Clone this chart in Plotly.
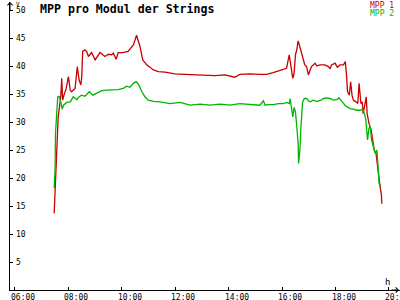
import plotly.graph_objects as go

# ---- data ----
mpp1_time = ["07:28","07:30","07:32","07:35","07:37","07:40","07:43","07:45","07:47","07:50",
             "07:55","08:00","08:04","08:07","08:15","08:20","08:24","08:28","08:30","08:32",
             "08:37","08:41","08:45","08:52","09:00","09:11","09:22","09:30","09:37","09:41",
             "09:47","09:52","10:02","10:14","10:26","10:33","10:41","10:47","10:56","11:11",
             "11:22","11:37","11:59","12:22","12:44","13:07","13:29","13:52","14:14","14:25",
             "14:48","15:10","15:25","15:40","15:55","16:03","16:10","16:16","16:19","16:24",
             "16:27","16:30","16:33","16:36","16:40","16:44","16:48","16:51","16:55","16:59",
             "17:03","17:06","17:14","17:18","17:25","17:36","17:44","17:48","17:51","17:59",
             "18:04","18:10","18:18","18:22","18:25","18:27","18:31","18:34","18:37","18:40",
             "18:46","18:50","18:53","18:57","19:00","19:02","19:07","19:09","19:11","19:15",
             "19:20","19:24","19:27","19:31","19:35","19:38","19:40","19:43","19:44"]
mpp1_value = [13.7,17.9,23.2,28.6,30.9,32.7,34.8,37.8,33.9,34.8,
              36.0,38.1,35.7,35.4,36.0,39.9,37.5,36.6,38.1,42.6,
              42.9,42.6,41.7,42.4,41.1,42.4,41.7,42.1,42.0,42.3,
              41.2,42.4,42.4,42.6,43.75,45.5,43.4,41.1,40.2,39.3,
              39.0,38.9,38.6,38.5,38.4,38.4,38.3,38.4,38.0,38.5,
              38.6,38.5,38.5,38.8,39.2,39.4,39.6,42.0,40.5,37.8,
              38.7,42.0,42.9,44.5,43.4,42.3,41.1,40.2,39.9,38.4,
              39.3,39.9,40.5,40.0,40.2,40.2,39.9,39.5,40.2,40.5,
              39.8,40.2,40.2,40.8,38.1,35.4,34.8,37.2,34.8,33.9,
              33.6,33.3,36.9,33.3,33.6,31.5,33.6,34.5,31.5,29.8,
              28.6,26.2,25.0,24.4,21.4,19.6,18.5,17.0,15.4]

mpp2_time = ["07:28","07:30","07:31","07:34","07:36","07:39","07:43","07:46","07:49","07:56",
             "08:04","08:11","08:19","08:24","08:30","08:37","08:47","08:55","09:04","09:15",
             "09:26","09:41","09:52","10:03","10:11","10:18","10:26","10:32","10:37","10:45",
             "10:52","10:59","11:11","11:26","11:48","12:11","12:33","12:56","13:18","13:41",
             "14:03","14:25","14:48","15:10","15:18","15:22","15:29","15:40","15:52","16:03",
             "16:10","16:16","16:18","16:20","16:22","16:24","16:27","16:30","16:33","16:36",
             "16:37","16:40","16:42","16:44","16:46","16:50","16:55","16:59","17:03","17:10",
             "17:18","17:25","17:33","17:40","17:48","17:55","18:03","18:08","18:14","18:22",
             "18:26","18:33","18:40","18:48","18:55","19:01","19:05","19:08","19:10","19:12",
             "19:15","19:18","19:21","19:25","19:29","19:33","19:35","19:38","19:42"]
mpp2_value = [18.2,21.4,28.0,32.7,34.5,34.6,33.6,32.3,33.0,33.5,
              33.6,34.5,34.0,34.5,34.8,34.6,35.4,34.8,35.2,35.6,
              35.7,35.7,35.8,36.0,36.4,36.2,36.9,37.2,36.8,35.4,
              34.5,33.9,33.7,33.6,33.3,33.5,33.0,33.2,33.0,33.2,
              33.0,33.3,33.2,33.0,33.8,33.0,33.1,33.1,33.3,33.3,
              33.5,33.3,34.2,33.3,32.1,30.9,32.6,31.8,29.2,26.2,
              22.6,25.0,28.6,31.5,33.6,34.2,34.2,33.8,33.6,33.9,
              33.7,33.8,34.2,34.3,34.2,33.9,34.0,34.3,33.6,32.9,
              32.7,32.4,32.3,32.1,32.1,32.3,31.5,30.4,28.6,26.8,
              28.9,29.2,26.8,25.3,24.4,25.0,21.4,19.0,18.5]

x_tick_hours = [6, 8, 10, 12, 14, 16, 18, 20]
x_tick_labels = ["06:00", "08:00", "10:00", "12:00", "14:00", "16:00", "18:00", "20:00"]
y_tick_values = [5, 10, 15, 20, 25, 30, 35, 40, 45, 50]

title_text = "MPP pro Modul der Strings"
series_names = ["MPP 1", "MPP 2"]
series_colors = ["#c80000", "#00b400"]


def to_hours(t):
    h, m = t.split(":")
    return int(h) + int(m) / 60.0


x_range = [5.813, 20.414]
y_range = [0, 51.43]
mono = "DejaVu Sans Mono"
tick_font = dict(family=mono, size=8, color="black")

fig = go.Figure()
fig.add_trace(go.Scatter(x=[to_hours(t) for t in mpp1_time], y=mpp1_value, mode="lines",
                         line=dict(color=series_colors[0], width=1.3), name=series_names[0]))
fig.add_trace(go.Scatter(x=[to_hours(t) for t in mpp2_time], y=mpp2_value, mode="lines",
                         line=dict(color=series_colors[1], width=1.3), name=series_names[1]))

axis_common = dict(showgrid=False, zeroline=False, automargin=False, showticklabels=False,
                   tickcolor="black", tickwidth=1, ticklen=3)
fig.update_layout(
    template="none",
    width=400, height=300,
    margin=dict(l=10, r=0, t=2, b=10, pad=0),
    paper_bgcolor="white", plot_bgcolor="white",
    showlegend=False,
    xaxis=dict(range=x_range, showline=True, linecolor="black", linewidth=1,
               ticks="inside", tickvals=x_tick_hours, **axis_common),
    xaxis2=dict(range=x_range, overlaying="x", anchor="y", side="bottom",
                ticks="outside", tickvals=x_tick_hours, showline=False, **axis_common),
    yaxis=dict(range=y_range, showline=True, linecolor="black", linewidth=1,
               ticks="inside", tickvals=y_tick_values, **axis_common),
    yaxis2=dict(range=y_range, overlaying="y", anchor="x", side="left",
                ticks="outside", tickvals=y_tick_values, showline=False, **axis_common),
)

annotations = [
    # axis arrows
    dict(x=0, y=1, xref="paper", yref="paper", text="", showarrow=True,
         ax=0, ay=10, arrowhead=4, arrowsize=1, arrowwidth=1, arrowcolor="black"),
    dict(x=1, y=0, xref="paper", yref="paper", text="", showarrow=True,
         ax=-10, ay=0, arrowhead=4, arrowsize=1, arrowwidth=1, arrowcolor="black"),
    # axis unit labels
    dict(x=0.01, y=1, xref="paper", yref="paper", text="V", showarrow=False,
         xanchor="left", yanchor="top", yshift=4, font=dict(family=mono, size=6, color="black")),
    dict(x=0.968, y=0, xref="paper", yref="paper", text="h", showarrow=False,
         xanchor="center", yanchor="bottom", yshift=1, font=dict(family=mono, size=9, color="black")),
    # title
    dict(x=28 / 390, y=1, xref="paper", yref="paper", text="<b>" + title_text + "</b>",
         showarrow=False, xanchor="left", yanchor="top", yshift=2,
         font=dict(family=mono, size=11.6, color="black")),
    # legend labels
    dict(x=1, y=1, xref="paper", yref="paper", text=series_names[0], showarrow=False,
         xanchor="right", yanchor="top", xshift=-4, yshift=3,
         font=dict(family=mono, size=8, color=series_colors[0])),
    dict(x=1, y=1, xref="paper", yref="paper", text=series_names[1], showarrow=False,
         xanchor="right", yanchor="top", xshift=-4, yshift=-5,
         font=dict(family=mono, size=8, color=series_colors[1])),
]
# x tick labels (left-aligned just before each tick, below the axis)
for hv, lab in zip(x_tick_hours, x_tick_labels):
    annotations.append(dict(x=hv, y=0, xref="x", yref="paper", text=lab, showarrow=False,
                            xanchor="left", yanchor="top", xshift=-5, yshift=-2, borderpad=0,
                            font=tick_font))
# y tick labels (right of the axis)
for v in y_tick_values:
    annotations.append(dict(x=0, y=v, xref="paper", yref="y", text=str(v), showarrow=False,
                            xanchor="left", yanchor="middle", xshift=5, borderpad=0,
                            font=tick_font))
fig.update_layout(annotations=annotations)

fig.write_html("out.html")
